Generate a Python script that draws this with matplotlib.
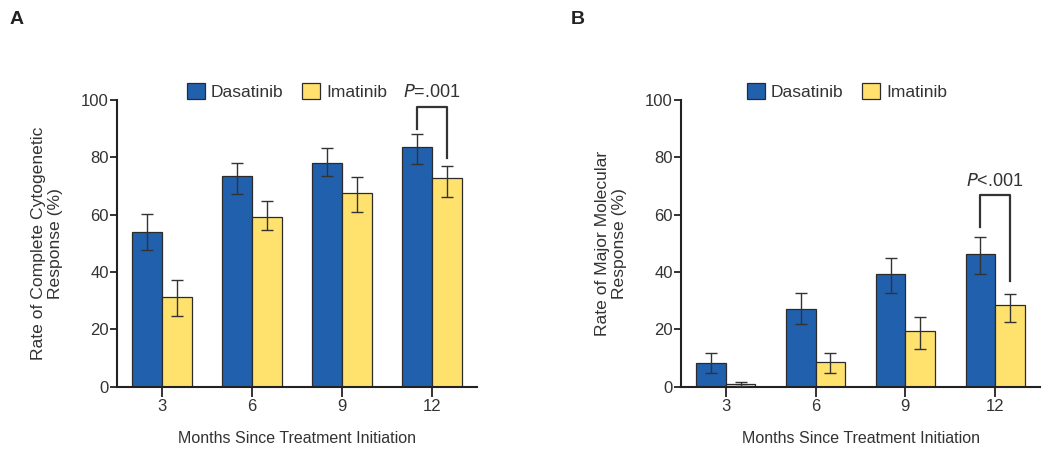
import numpy as np
import matplotlib
matplotlib.use('Agg')
import matplotlib.pyplot as plt
from matplotlib.patches import Patch

plt.rcParams['font.family'] = ['Liberation Sans', 'DejaVu Sans']

months = ['3', '6', '9', '12']

# panel A: complete cytogenetic response (%)
cyto_das = [54, 73.4, 78.1, 83.6]
cyto_das_lo = [47.7, 67.1, 73.4, 77.6]
cyto_das_hi = [60.1, 77.9, 83.3, 88.1]
cyto_ima = [31.2, 59.2, 67.4, 72.8]
cyto_ima_lo = [24.7, 54.5, 60.8, 66.3]
cyto_ima_hi = [37.2, 64.8, 73.0, 77.1]

# panel B: major molecular response (%)
mol_das = [8.1, 27.0, 39.4, 46.4]
mol_das_lo = [4.7, 21.8, 32.6, 39.2]
mol_das_hi = [11.9, 32.8, 45.0, 52.1]
mol_ima = [1.0, 8.5, 19.3, 28.5]
mol_ima_lo = [0.3, 4.9, 13.3, 22.4]
mol_ima_hi = [1.8, 11.9, 24.3, 32.2]

blue = '#2060ad'
yellow = '#ffe26e'
edge = '#2b2b2b'
txt = '#333333'

fig = plt.figure(figsize=(10.5, 4.59), dpi=100)
axA = fig.add_axes([117/1050, 1-386.7/459, 360/1050, 286.7/459])
axB = fig.add_axes([681/1050, 1-386.7/459, 359/1050, 286.7/459])


def draw_panel(ax, das, das_lo, das_hi, ima, ima_lo, ima_hi, ylabel, ptext, bracket, leg_x):
    x = np.arange(len(months))
    w = 0.33
    das = np.array(das)
    ima = np.array(ima)
    das_err = [das - np.array(das_lo), np.array(das_hi) - das]
    ima_err = [ima - np.array(ima_lo), np.array(ima_hi) - ima]
    ax.bar(x - w/2, das, w, color=blue, edgecolor=edge, linewidth=0.9, zorder=2)
    ax.bar(x + w/2, ima, w, color=yellow, edgecolor=edge, linewidth=0.9, zorder=2)
    ax.errorbar(x - w/2, das, yerr=das_err, fmt='none', ecolor='#333333',
                elinewidth=1.0, capsize=4.5, capthick=1.0, zorder=3)
    ax.errorbar(x + w/2, ima, yerr=ima_err, fmt='none', ecolor='#333333',
                elinewidth=1.0, capsize=4.5, capthick=1.0, zorder=3)

    ax.set_xlim(-0.5, 3.5)
    ax.set_ylim(0, 100)
    ax.set_xticks(x)
    ax.set_xticklabels(months)
    ax.set_yticks([0, 20, 40, 60, 80, 100])
    for s in ['top', 'right']:
        ax.spines[s].set_visible(False)
    for s in ['left', 'bottom']:
        ax.spines[s].set_linewidth(1.5)
        ax.spines[s].set_color('#222222')
    ax.tick_params(axis='y', length=5, width=1.3, colors='#222222', labelsize=12,
                   labelcolor=txt, pad=1)
    ax.tick_params(axis='x', length=7, width=1.3, colors='#222222', labelsize=12,
                   labelcolor=txt, pad=2)
    ax.set_xlabel('Months Since Treatment Initiation', fontsize=11.5, color=txt, labelpad=12)
    ax.set_ylabel(ylabel, fontsize=12.6, color=txt, labelpad=13, linespacing=1.15)

    # significance bracket at month 12
    y_left, y_top, y_right = bracket
    xl, xr = 3 - w/2, 3 + w/2
    ax.plot([xl, xl, xr, xr], [y_left, y_top, y_top, y_right], color='#333333',
            linewidth=1.6, clip_on=False, zorder=4)
    ax.text(3, y_top + 1.8, ptext, ha='center', va='bottom', fontsize=13,
            color=txt, clip_on=False)

    handles = [Patch(facecolor=blue, edgecolor=edge, linewidth=0.9, label='Dasatinib'),
               Patch(facecolor=yellow, edgecolor=edge, linewidth=0.9, label='Imatinib')]
    leg = ax.legend(handles=handles, loc='center', bbox_to_anchor=(leg_x, 1.03), ncol=2,
                    frameon=False, fontsize=12.5, handlelength=1.05, handleheight=1.05,
                    handletextpad=0.35, columnspacing=1.05, borderaxespad=0)
    for t in leg.get_texts():
        t.set_color(txt)


draw_panel(axA, cyto_das, cyto_das_lo, cyto_das_hi, cyto_ima, cyto_ima_lo, cyto_ima_hi,
           'Rate of Complete Cytogenetic\nResponse (%)', r'$P$=.001', (89.8, 97.7, 79.7), 0.472)
draw_panel(axB, mol_das, mol_das_lo, mol_das_hi, mol_ima, mol_ima_lo, mol_ima_hi,
           'Rate of Major Molecular\nResponse (%)', r'$P$<.001', (55.6, 66.9, 37.0), 0.462)

fig.text(10/1050, 1-19/459, 'A', fontsize=14, fontweight='bold', color='#222222', va='center')
fig.text(571/1050, 1-19/459, 'B', fontsize=14, fontweight='bold', color='#222222', va='center')

fig.savefig('out.png', dpi=100)
